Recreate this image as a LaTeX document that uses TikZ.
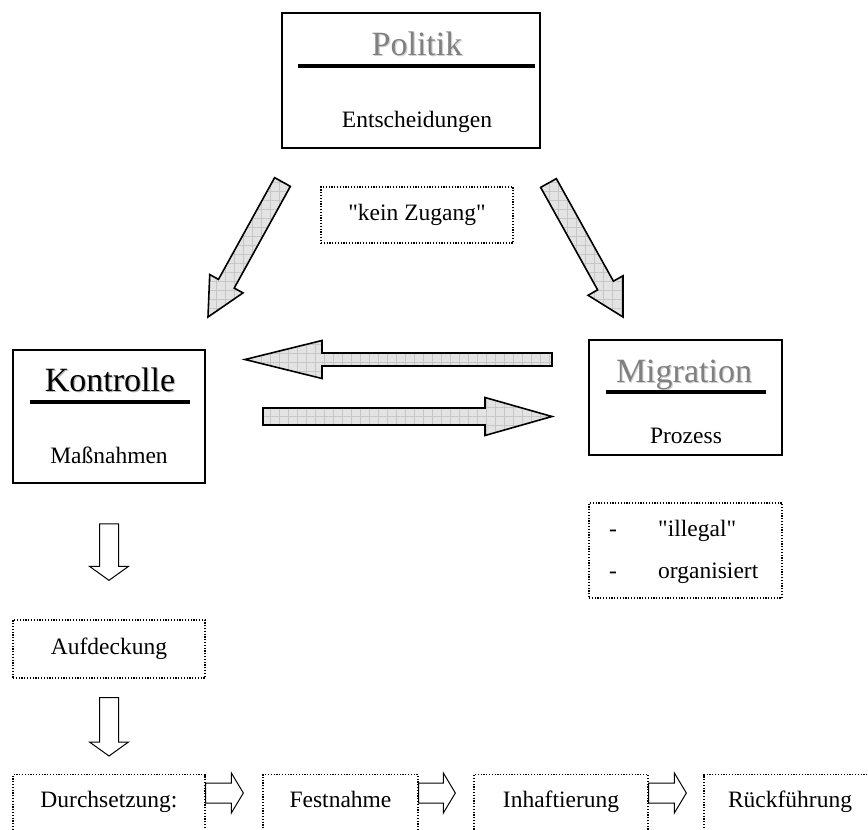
\documentclass[tikz,border=0pt]{standalone}
\usepackage{fontspec}
\setmainfont{Liberation Serif}
\usepackage{xcolor}
\usepackage{tikz}
\usetikzlibrary{calc,patterns.meta}

\newcommand{\bodysize}{\fontsize{23.5pt}{28pt}\selectfont}
\newcommand{\titlesize}{\fontsize{34pt}{40pt}\selectfont}
\newcommand{\shadowed}[3]{\makebox[0pt][l]{\hspace{1.2pt}\raisebox{-1.2pt}{\color{#2}#3}}{\color{#1}#3}}
\newcommand{\fatarrow}[6][]{%
  \coordinate (fa-h) at ($(#3)!#6!(#2)$);
  \draw[#1] ($(#2)!#4!90:(#3)$) -- ($(fa-h)!#4!90:(#3)$) -- ($(fa-h)!#5!90:(#3)$) -- (#3)
    -- ($(fa-h)!#5!-90:(#3)$) -- ($(fa-h)!#4!-90:(#3)$) -- ($(#2)!#4!-90:(#3)$) -- cycle;}

\tikzset{
  mainbox/.style={draw, line width=1.6pt, inner sep=0pt},
  dotbox/.style={draw, line width=1.3pt, dash pattern=on 1.2pt off 1.6pt, inner sep=0pt},
  rowbox/.style={dotbox, anchor=north, font=\bodysize, text height=33pt, text depth=30pt},
  titletext/.style={anchor=base, inner sep=0pt, font=\titlesize},
  bodytext/.style={anchor=base, inner sep=0pt, font=\bodysize},
  titlerule/.style={line width=4.5pt},
  bigarrow/.style={draw=black, line width=1.6pt, line join=miter, preaction={fill=gray!22},
    pattern={Hatch[distance=9pt, angle=0, line width=0.5pt]}, pattern color=gray!45},
  thinarrow/.style={draw=black, line width=1pt, line join=miter}
}

\begin{document}
\begin{tikzpicture}[x=1pt, y=-1pt]
    \useasboundingbox (0,0) rectangle (868,830);

    \node[mainbox, minimum width=258pt, minimum height=135pt] (politik) at (411,80.5) {};
    \node[titletext] (politik-title) at (417,55) {\shadowed{black!50}{black!18}{Politik}};
    \draw[titlerule] (298,66) -- (535,66);
    \node[bodytext] (politik-text) at (417,127) {Entscheidungen};

    \node[dotbox, minimum width=192pt, minimum height=56pt, font=\bodysize] (zugang) at (417,215) {\textquotedbl kein Zugang\textquotedbl};

    \node[mainbox, minimum width=192pt, minimum height=133pt] (kontrolle) at (109,416.5) {};
    \node[titletext] (kontrolle-title) at (110,391) {\shadowed{black}{black!28}{Kontrolle}};
    \draw[titlerule] (30,402) -- (190,402);
    \node[bodytext] (kontrolle-text) at (109,463) {Maßnahmen};

    \node[mainbox, minimum width=193pt, minimum height=115pt] (migration) at (685.5,397.5) {};
    \node[titletext] (migration-title) at (684,382) {\shadowed{black!50}{black!18}{Migration}};
    \draw[titlerule] (606,392) -- (766,392);
    \node[bodytext] (migration-text) at (686,443) {Prozess};

    \node[dotbox, minimum width=193pt, minimum height=95pt] (merkmale) at (685.5,550.5) {};
    \node[bodytext, anchor=base west] (merkmale-text) at (609,536)
        {\renewcommand{\arraystretch}{1.5}\begin{tabular}[t]{@{}p{49pt}@{}l@{}}- & \textquotedbl illegal\textquotedbl\\- & organisiert\end{tabular}};

    \node[dotbox, minimum width=192pt, minimum height=58pt, font=\bodysize] (aufdeckung) at (109,649) {Aufdeckung};

    \node[rowbox, minimum width=192pt] (durchsetzung) at (109,774) {Durchsetzung:};
    \node[rowbox, minimum width=155pt] (festnahme) at (340.5,774) {Festnahme};
    \node[rowbox, minimum width=174pt] (inhaftierung) at (561,774) {Inhaftierung};
    \node[rowbox, minimum width=172pt] (rueckfuehrung) at (790,774) {Rückführung};

    \coordinate (pk-tail) at (282.5,182);
    \coordinate (pk-tip) at (208,317);
    \fatarrow[bigarrow]{pk-tail}{pk-tip}{9pt}{19pt}{38pt}
    \coordinate (pm-tail) at (548.5,183);
    \coordinate (pm-tip) at (623,317);
    \fatarrow[bigarrow]{pm-tail}{pm-tip}{9pt}{20pt}{36pt}
    \coordinate (mk-tail) at (552,359.5);
    \coordinate (mk-tip) at (245,359.5);
    \fatarrow[bigarrow]{mk-tail}{mk-tip}{6.5pt}{19pt}{77pt}
    \coordinate (km-tail) at (263,416.5);
    \coordinate (km-tip) at (552,416.5);
    \fatarrow[bigarrow]{km-tail}{km-tip}{8.5pt}{19pt}{67pt}

    \coordinate (ka-tail) at ($(kontrolle.south)+(0,40)$);
    \coordinate (ka-tip) at ($(aufdeckung.north)+(0,-39)$);
    \fatarrow[thinarrow]{ka-tail}{ka-tip}{9.5pt}{19.5pt}{14pt}
    \coordinate (ad-tail) at ($(aufdeckung.south)+(0,19)$);
    \coordinate (ad-tip) at ($(durchsetzung.north)+(0,-18)$);
    \fatarrow[thinarrow]{ad-tail}{ad-tip}{9.5pt}{19.5pt}{14pt}

    \coordinate (df-tail) at ($(durchsetzung.north east)+(0,19)$);
    \coordinate (df-tip) at ($(festnahme.north west)+(-19,19)$);
    \fatarrow[thinarrow]{df-tail}{df-tip}{10pt}{20pt}{12pt}
    \coordinate (fi-tail) at ($(festnahme.north east)+(0,19)$);
    \coordinate (fi-tip) at ($(inhaftierung.north west)+(-18,19)$);
    \fatarrow[thinarrow]{fi-tail}{fi-tip}{10pt}{20pt}{12pt}
    \coordinate (ir-tail) at ($(inhaftierung.north east)+(0,19)$);
    \coordinate (ir-tip) at ($(rueckfuehrung.north west)+(-17,19)$);
    \fatarrow[thinarrow]{ir-tail}{ir-tip}{10pt}{20pt}{12pt}
\end{tikzpicture}
\end{document}
